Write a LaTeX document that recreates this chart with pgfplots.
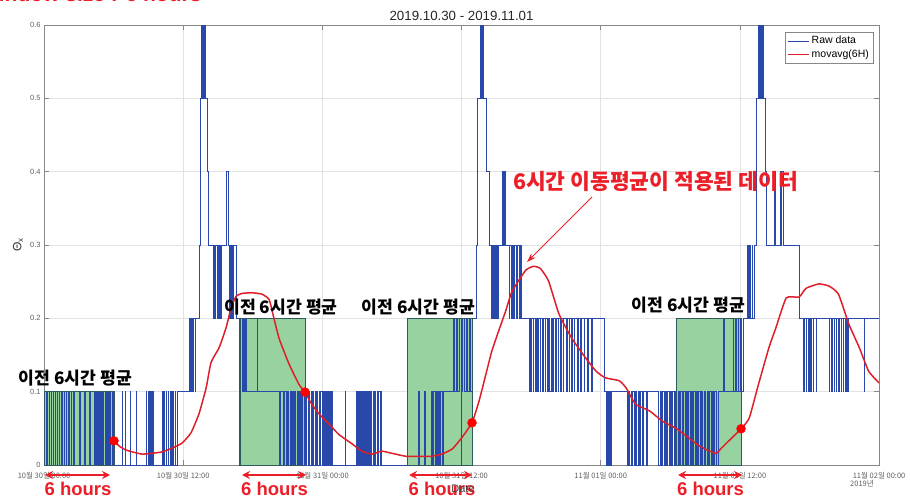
\documentclass[border=0pt]{standalone}
\usepackage{fontspec}
\setmainfont{Liberation Sans}
\newfontfamily\krfont{Noto Sans CJK KR}
\usepackage{pgfplots}
\pgfplotsset{compat=1.18}
\usetikzlibrary{arrows.meta}

\definecolor{rawblue}{RGB}{40,72,170}
\definecolor{avgred}{RGB}{222,30,40}
\definecolor{boxgreen}{RGB}{152,210,160}
\definecolor{boxedge}{RGB}{45,90,95}
\definecolor{gridgray}{RGB}{226,226,226}
\definecolor{axisgray}{RGB}{135,135,135}
\definecolor{ticktext}{RGB}{95,95,95}
\definecolor{annored}{RGB}{236,30,40}

% raw signal: hour since 10/30 00:00, value held until the next row
\pgfplotstableread{
h v
0.00 0.1
0.15 0
0.30 0.1
0.45 0
0.60 0.1
0.80 0
1.00 0.1
1.10 0
1.30 0.1
1.50 0
1.60 0.1
1.75 0
1.90 0.1
2.10 0
2.20 0.1
2.35 0
2.50 0.1
2.60 0
3.00 0.1
3.10 0
3.45 0.1
3.55 0
3.90 0.1
4.00 0
4.30 0.1
4.45 0
4.50 0.1
4.60 0
4.70 0.1
4.80 0
4.85 0.1
4.95 0
5.00 0.1
5.10 0
5.15 0.1
5.25 0
5.30 0.1
5.40 0
5.45 0.1
5.55 0
5.60 0.1
5.70 0
5.75 0.1
5.85 0
5.90 0.1
6.00 0
6.72 0.1
6.76 0
6.98 0.1
7.02 0
7.41 0.1
7.45 0
7.93 0.1
7.97 0
8.80 0.1
8.85 0
8.95 0.1
9.00 0
9.10 0.1
9.15 0
9.25 0.1
9.30 0
9.40 0.1
9.45 0
10.20 0.1
10.25 0
10.35 0.1
10.40 0
10.50 0.1
10.55 0
10.70 0.1
10.75 0
10.90 0.1
10.95 0
11.10 0.1
11.15 0
11.30 0.1
11.35 0
11.45 0.1
12.50 0.2
12.60 0.1
12.70 0.2
12.80 0.1
12.90 0.2
13.00 0.1
13.05 0.2
13.40 0.3
13.45 0.5
13.55 0.7
13.60 0.5
13.63 0.7
13.68 0.5
13.72 0.7
13.78 0.5
13.82 0.7
13.88 0.5
14.05 0.4
14.20 0.3
14.60 0.2
14.65 0.3
14.75 0.2
14.80 0.3
14.90 0.2
14.95 0.3
15.05 0.2
15.10 0.3
15.20 0.2
15.30 0.3
15.75 0.4
15.85 0.3
15.95 0.2
16.00 0.3
16.10 0.2
16.15 0.3
16.25 0.2
16.35 0.3
16.55 0.2
16.85 0
16.90 0.1
16.95 0.2
17.05 0.1
17.15 0.2
17.30 0.1
17.35 0.2
17.45 0.1
18.35 0.2
18.42 0.1
20.30 0
20.40 0.1
20.60 0
20.70 0.1
20.85 0
20.95 0.1
21.10 0
21.20 0.1
21.30 0
21.40 0.1
21.50 0
21.55 0.1
21.70 0
21.80 0.1
21.90 0
22.00 0.1
22.10 0
22.15 0.1
22.25 0
22.30 0.1
22.40 0
22.45 0.1
22.55 0
22.65 0.1
22.75 0
22.80 0.1
22.90 0
23.00 0.1
23.10 0
23.15 0.1
23.25 0
23.35 0.1
23.45 0
23.50 0.1
23.60 0
23.70 0.1
23.80 0
23.85 0.1
23.95 0
24.05 0.1
24.15 0
24.25 0.1
24.35 0
24.40 0.1
24.50 0
24.60 0.1
24.70 0
24.75 0.1
24.85 0
25.95 0.1
26.00 0
26.90 0.1
27.00 0
27.10 0.1
27.20 0
27.30 0.1
27.35 0
27.45 0.1
27.55 0
27.65 0.1
27.70 0
27.80 0.1
27.90 0
28.00 0.1
28.05 0
28.15 0.1
28.25 0
28.35 0.1
28.40 0
28.50 0.1
28.60 0
28.70 0.1
28.75 0
28.85 0.1
28.95 0
29.00 0.1
29.05 0
32.30 0.1
32.35 0
32.80 0.1
32.85 0
33.40 0.1
33.50 0
33.60 0.1
33.70 0
33.80 0.1
33.90 0
34.00 0.1
34.10 0
34.20 0.1
34.30 0
34.45 0.1
35.30 0.2
35.40 0.1
35.55 0.2
35.65 0.1
35.80 0.2
35.95 0
36.00 0.1
36.10 0.2
36.25 0.1
36.40 0.2
36.50 0.1
36.65 0.2
36.75 0.1
36.90 0.2
37.30 0.3
37.35 0.5
37.65 0.7
37.70 0.5
37.75 0.7
37.80 0.5
37.85 0.7
37.90 0.5
38.10 0.4
38.35 0.3
38.60 0.2
38.65 0.3
38.75 0.2
38.80 0.3
38.95 0.2
39.00 0.3
39.10 0.2
39.15 0.3
39.50 0.4
39.55 0.3
39.60 0.4
39.65 0.3
39.75 0.4
39.80 0.3
40.10 0.2
40.15 0.3
40.30 0.2
40.35 0.3
40.50 0.2
40.55 0.3
40.75 0.2
40.80 0.3
41.00 0.2
41.05 0.3
41.15 0.2
41.80 0.1
41.85 0.2
41.95 0.1
42.05 0.2
42.15 0.1
42.20 0.2
42.35 0.1
42.45 0.2
42.55 0.1
42.60 0.2
42.75 0.1
42.80 0.2
42.95 0.1
43.05 0.2
43.20 0.1
43.25 0.2
43.40 0.1
43.50 0.2
43.60 0.1
43.70 0.2
43.85 0.1
43.90 0.2
44.05 0.1
44.15 0.2
44.30 0.1
44.35 0.2
44.50 0.1
44.60 0.2
44.75 0.1
44.80 0.2
45.00 0.1
45.10 0.2
45.25 0.1
45.30 0.2
45.45 0.1
45.55 0.2
45.70 0.1
45.75 0.2
45.95 0.1
46.05 0.2
46.25 0.1
46.30 0.2
46.55 0.1
46.60 0.2
46.85 0.1
46.90 0.2
47.20 0.1
47.25 0.2
48.30 0.1
48.50 0
48.55 0.1
48.65 0
48.70 0.1
48.85 0
48.90 0.1
50.30 0
50.40 0.1
50.50 0
50.60 0.1
50.70 0
50.75 0.1
50.90 0
51.00 0.1
51.10 0
51.20 0.1
51.35 0
51.45 0.1
51.60 0
51.70 0.1
51.90 0
52.00 0.1
53.00 0
53.10 0.1
53.20 0
53.30 0.1
53.45 0
53.55 0.1
53.65 0
53.75 0.1
53.90 0
54.00 0.1
54.10 0
54.20 0.1
54.35 0
54.45 0.1
54.55 0
54.65 0.1
54.80 0
54.90 0.1
55.00 0
55.10 0.1
55.25 0
55.35 0.1
55.45 0
55.55 0.1
55.70 0
55.80 0.1
55.90 0
56.00 0.1
56.15 0
56.25 0.1
56.35 0
56.45 0.1
56.60 0
56.70 0.1
56.80 0
56.90 0.1
57.05 0
57.15 0.1
57.25 0
57.35 0.1
57.50 0
57.60 0.1
57.70 0
57.80 0.1
57.95 0
58.10 0.1
58.60 0.2
58.65 0.1
59.40 0.2
59.45 0.1
59.60 0.2
59.65 0.1
59.85 0.2
59.90 0.1
60.05 0.2
60.15 0.1
60.30 0.2
60.65 0.3
60.70 0.2
60.85 0.3
60.90 0.2
61.05 0.3
61.10 0.2
61.20 0.3
61.45 0.5
61.60 0.7
61.65 0.5
61.70 0.7
61.75 0.5
61.80 0.7
61.85 0.5
61.90 0.7
62.00 0.5
62.20 0.4
62.30 0.3
62.95 0.4
63.05 0.3
63.50 0.4
63.55 0.3
63.60 0.4
63.70 0.3
65.10 0.2
65.50 0.1
65.55 0.2
65.70 0.1
65.75 0.2
65.90 0.1
65.95 0.2
66.10 0.1
66.15 0.2
66.30 0.1
66.35 0.2
66.55 0.1
66.60 0.2
67.70 0.1
67.75 0.2
67.90 0.1
67.95 0.2
68.10 0.1
68.15 0.2
68.30 0.1
68.35 0.2
68.50 0.1
68.55 0.2
68.70 0.1
68.75 0.2
68.90 0.1
68.95 0.2
69.10 0.1
69.15 0.2
69.30 0.1
69.35 0.2
70.70 0.1
70.75 0.2
72.00 0.2
}\rawdata

% trailing 6-hour moving average
\pgfplotstableread{
h v
6.03 0.033
6.47 0.026
7.00 0.021
7.59 0.018
8.45 0.015
9.31 0.016
10.17 0.018
11.03 0.023
11.90 0.030
12.67 0.044
13.36 0.070
13.97 0.105
14.40 0.140
15.09 0.160
15.69 0.187
16.12 0.214
16.55 0.230
17.07 0.234
17.93 0.235
18.79 0.233
19.40 0.226
19.70 0.208
20.26 0.173
21.12 0.138
21.98 0.110
22.50 0.0995
23.00 0.085
23.70 0.070
24.57 0.056
25.40 0.042
26.55 0.029
27.40 0.019
28.30 0.015
29.10 0.019
30.00 0.016
31.20 0.012
32.30 0.012
33.40 0.012
34.30 0.015
35.20 0.022
36.00 0.037
36.90 0.0577
37.50 0.087
38.10 0.124
38.60 0.155
39.20 0.183
39.80 0.210
40.30 0.235
40.90 0.251
41.55 0.266
42.20 0.271
42.80 0.268
43.50 0.251
44.40 0.206
45.50 0.173
46.70 0.146
47.60 0.128
48.40 0.119
49.60 0.115
50.20 0.105
51.00 0.083
52.20 0.074
53.30 0.060
54.50 0.050
55.60 0.037
56.50 0.026
57.90 0.016
58.40 0.023
59.30 0.037
60.10 0.0495
60.80 0.064
61.60 0.110
62.50 0.160
63.10 0.187
64.00 0.228
65.10 0.229
65.70 0.241
66.80 0.247
67.70 0.244
68.50 0.233
69.40 0.192
70.30 0.160
71.10 0.128
72.00 0.112
}\avgdata

% averages taken at the end of each 6-hour window
\pgfplotstableread{
h v
6.03 0.033
22.50 0.0995
36.90 0.0577
60.10 0.0495
}\markdata

\begin{document}
\begin{tikzpicture}[x=1pt,y=1pt]
\useasboundingbox (0,0) rectangle (910,501);

\begin{axis}[
  at={(38,49)}, anchor=south west,
  scale only axis, width=835pt, height=440pt,
  xmin=0, xmax=72, ymin=0, ymax=0.6,
  xtick={0,12,24,36,48,60,72},
  xticklabels={10월 30일 00:00,10월 30일 12:00,10월 31일 00:00,10월 31일 12:00,11월 01일 00:00,11월 01일 12:00,11월 02일 00:00},
  ytick={0,0.1,0.2,0.3,0.4,0.5,0.6},
  yticklabels={0,0.1,0.2,0.3,0.4,0.5,0.6},
  grid=major,
  major grid style={gridgray, line width=0.6pt},
  axis line style={axisgray, line width=0.7pt},
  tick style={axisgray, line width=0.6pt},
  tick align=inside, major tick length=5pt,
  xticklabel style={font=\krfont\fontsize{7.5}{8}\selectfont, text=ticktext, anchor=base, yshift=-13pt},
  yticklabel style={font=\fontsize{7.5}{8}\selectfont, text=ticktext},
  every axis title/.style={at={(0.5,1)}, anchor=base, yshift=5pt,
    font=\fontsize{13.3}{15}\selectfont, text=black!85},
  title={2019.10.30 - 2019.11.01},
  ylabel={\fontsize{12}{13}\selectfont Θ\textsubscript{x}},
  ylabel style={text=black!80},
  legend style={at={(1,1)}, anchor=north east, xshift=-6pt, yshift=-7pt,
    font=\fontsize{10.5}{12}\selectfont, draw=axisgray, inner sep=2pt,
    row sep=0.5pt, cells={anchor=west}},
  legend image code/.code={\draw[#1] (0pt,0pt) -- (21pt,0pt);},
  clip=true,
]
  % shaded windows behind the signal
  \fill[boxgreen] (axis cs:0,0) rectangle (axis cs:6.03,0.1);
  \fill[boxgreen] (axis cs:16.9,0) rectangle (axis cs:22.5,0.2);
  \fill[boxgreen] (axis cs:31.3,0) rectangle (axis cs:36.9,0.2);
  \fill[boxgreen] (axis cs:54.5,0) rectangle (axis cs:60.1,0.2);

  \addplot[const plot, rawblue, line width=0.6pt] table[x=h, y=v] {\rawdata};
  \addlegendentry{Raw data}

  \draw[boxedge, line width=0.8pt] (axis cs:0,0) rectangle (axis cs:6.03,0.1);
  \draw[boxedge, line width=0.8pt] (axis cs:16.9,0) rectangle (axis cs:22.5,0.2);
  \draw[boxedge, line width=0.8pt] (axis cs:31.3,0) rectangle (axis cs:36.9,0.2);
  \draw[boxedge, line width=0.8pt] (axis cs:54.5,0) rectangle (axis cs:60.1,0.2);

  \addplot[avgred, line width=1.5pt, smooth, tension=0.3] table[x=h, y=v] {\avgdata};
  \addlegendentry{movavg(6H)}

  \addplot[only marks, mark=*, mark size=4.5pt, color=red, forget plot] table[x=h, y=v] {\markdata};
\end{axis}

% labels around the plot
\node[anchor=base east, font=\bfseries\fontsize{21}{22}\selectfont, text=annored] at (205,499) {Window size : 6 hours};

\node[font=\krfont\bfseries\fontsize{17.2}{18}\selectfont] at (75.5,123) {이전 6시간 평균};
\node[font=\krfont\bfseries\fontsize{17.2}{18}\selectfont] at (281,194) {이전 6시간 평균};
\node[font=\krfont\bfseries\fontsize{17.2}{18}\selectfont] at (418.5,194) {이전 6시간 평균};
\node[font=\krfont\bfseries\fontsize{17.2}{18}\selectfont] at (688.5,196) {이전 6시간 평균};

\node[font=\krfont\bfseries\fontsize{21.5}{22}\selectfont, text=annored] at (655.5,320) {6시간 이동평균이 적용된 데이터};
\draw[annored, line width=0.9pt, -{Stealth[length=9pt,width=6pt]}] (592,304) -- (527,239);

\foreach \a/\b in {45/110, 242/306, 409/472, 678/742}{
  \draw[annored, line width=2pt, {Stealth[length=8pt,width=8pt]}-{Stealth[length=8pt,width=8pt]}] (\a,26) -- (\b,26);
}
\foreach \c in {78, 274.5, 442, 710.5}{
  \node[font=\bfseries\fontsize{18.5}{20}\selectfont, text=annored] at (\c,12.5) {6 hours};
}

\node[font=\fontsize{11}{12}\selectfont, text=black!75] at (463,12.5) {Date};
\node[font=\krfont\fontsize{7.5}{8}\selectfont, text=ticktext] at (862,17) {2019년};
\end{tikzpicture}
\end{document}
